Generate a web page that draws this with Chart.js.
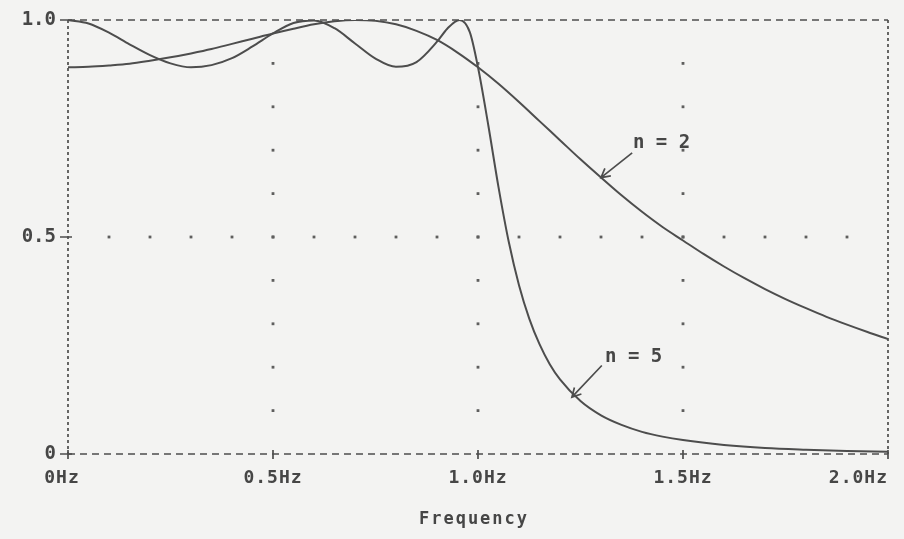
<!DOCTYPE html>
<html lang="en">
<head>
    <meta charset="UTF-8">
    <title>Filter Response, n = 2 and n = 5</title>
    <script src="https://cdn.jsdelivr.net/npm/chart.js"></script>
    <style>
        body {
            margin: 0;
            background: #f3f3f2;
        }
        #response {
            display: block;
        }
    </style>
</head>
<body>
    <canvas id="response" width="904" height="539"></canvas>

    <script>
        // values (magnitude vs frequency in Hz)
        const freqN2 = [0, 0.05, 0.1, 0.15, 0.2, 0.25, 0.3, 0.35, 0.4, 0.45, 0.5, 0.55, 0.6, 0.65, 0.7, 0.75, 0.8, 0.85, 0.9, 0.95,
                        1.0, 1.05, 1.1, 1.15, 1.2, 1.25, 1.3, 1.35, 1.4, 1.45, 1.5, 1.55, 1.6, 1.65, 1.7, 1.75, 1.8, 1.85, 1.9, 1.95, 2.0];
        const magN2 = [0.891, 0.892, 0.895, 0.899, 0.906, 0.914, 0.923, 0.933, 0.945, 0.957, 0.969, 0.980, 0.990, 0.997, 1.000, 0.998, 0.990, 0.975, 0.954, 0.925,
                       0.891, 0.853, 0.811, 0.767, 0.723, 0.679, 0.637, 0.596, 0.558, 0.523, 0.492, 0.461, 0.432, 0.405, 0.380, 0.357, 0.336, 0.316, 0.298, 0.281, 0.265];

        const freqN5 = [0, 0.05, 0.1, 0.15, 0.2, 0.25, 0.3, 0.35, 0.4, 0.45, 0.5, 0.55, 0.6, 0.65, 0.7, 0.75, 0.8, 0.85, 0.9, 0.925, 0.955, 0.98,
                        1.0, 1.025, 1.05, 1.075, 1.1, 1.125, 1.15, 1.175, 1.2, 1.25, 1.3, 1.35, 1.4, 1.45, 1.5, 1.6, 1.7, 1.8, 1.9, 2.0];
        const magN5 = [1.000, 0.992, 0.971, 0.944, 0.919, 0.900, 0.891, 0.896, 0.912, 0.939, 0.969, 0.993, 0.999, 0.981, 0.946, 0.911, 0.892, 0.903, 0.950, 0.980, 1.000, 0.972,
                       0.891, 0.758, 0.615, 0.489, 0.389, 0.312, 0.253, 0.207, 0.172, 0.122, 0.089, 0.067, 0.051, 0.040, 0.032, 0.021, 0.014, 0.010, 0.007, 0.005];

        const xTicks = [0, 0.5, 1.0, 1.5, 2.0];
        const xTickLabels = ['0Hz', '0.5Hz', '1.0Hz', '1.5Hz', '2.0Hz'];
        const yTicks = [0, 0.5, 1.0];
        const yTickLabels = ['0', '0.5', '1.0'];
        const xTitle = 'Frequency';

        // dotted grid lines
        const gridX = [0.5, 1.0, 1.5];
        const gridY = [0.5];
        const gridStep = 0.1;

        // curve labels with leader arrows, in data units
        const curveNotes = [
            { text: 'n = 2', at: [1.378, 0.705], from: [1.376, 0.694], to: [1.30, 0.637] },
            { text: 'n = 5', at: [1.310, 0.212], from: [1.302, 0.204], to: [1.229, 0.131] }
        ];

        const ink = '#4d4d4d';
        const textInk = '#464646';

        function toPoints(xs, ys) {
            return xs.map((x, i) => ({ x: x, y: ys[i] }));
        }

        const scanPlot = {
            id: 'scanPlot',
            beforeDatasetsDraw(chart) {
                const { ctx, chartArea: a, scales: { x, y } } = chart;
                ctx.save();

                // grid dots
                ctx.fillStyle = '#5e5e5e';
                gridX.forEach(gx => {
                    for (let v = gridStep; v < 1 - 1e-6; v += gridStep) {
                        ctx.fillRect(x.getPixelForValue(gx) - 1.4, y.getPixelForValue(v) - 1.4, 2.8, 2.8);
                    }
                });
                gridY.forEach(gy => {
                    for (let v = gridStep; v < 2 - 1e-6; v += gridStep) {
                        ctx.fillRect(x.getPixelForValue(v) - 1.4, y.getPixelForValue(gy) - 1.4, 2.8, 2.8);
                    }
                });

                // dashed frame
                ctx.strokeStyle = ink;
                ctx.lineWidth = 1.7;
                ctx.setLineDash([7, 5]);
                ctx.beginPath();
                ctx.moveTo(a.left, a.top);
                ctx.lineTo(a.right, a.top);
                ctx.moveTo(a.left, a.bottom);
                ctx.lineTo(a.right, a.bottom);
                ctx.stroke();
                ctx.setLineDash([3, 3]);
                ctx.beginPath();
                ctx.moveTo(a.left, a.top);
                ctx.lineTo(a.left, a.bottom);
                ctx.moveTo(a.right, a.top);
                ctx.lineTo(a.right, a.bottom);
                ctx.stroke();
                ctx.setLineDash([]);

                // tick marks
                ctx.beginPath();
                yTicks.forEach(v => {
                    const py = y.getPixelForValue(v);
                    ctx.moveTo(a.left - 8, py);
                    ctx.lineTo(a.left + 4, py);
                });
                xTicks.forEach(v => {
                    const px = x.getPixelForValue(v);
                    ctx.moveTo(px, a.bottom - 4);
                    ctx.lineTo(px, a.bottom + 5);
                });
                ctx.stroke();
                ctx.restore();
            },
            afterDraw(chart) {
                const { ctx, chartArea: a, scales: { x, y } } = chart;
                ctx.save();
                ctx.fillStyle = textInk;

                // y labels
                ctx.font = 'bold 19px "DejaVu Sans Mono"';
                ctx.textAlign = 'right';
                ctx.textBaseline = 'middle';
                yTicks.forEach((v, i) => {
                    ctx.fillText(yTickLabels[i], a.left - 12, y.getPixelForValue(v));
                });

                // x labels, last one kept inside the frame
                ctx.font = 'bold 18px "DejaVu Sans Mono"';
                ctx.letterSpacing = '1px';
                xTicks.forEach((v, i) => {
                    const last = i === xTicks.length - 1;
                    ctx.textAlign = last ? 'right' : 'center';
                    ctx.fillText(xTickLabels[i], x.getPixelForValue(v) + (i === 0 ? -6 : 0), a.bottom + 24);
                });

                ctx.font = 'bold 17px "DejaVu Sans Mono"';
                ctx.letterSpacing = '2px';
                ctx.textAlign = 'center';
                ctx.textBaseline = 'alphabetic';
                ctx.fillText(xTitle, (a.left + a.right) / 2 - 4, a.bottom + 70);

                // curve notes
                ctx.font = 'bold 19px "DejaVu Sans Mono"';
                ctx.letterSpacing = '0px';
                ctx.textAlign = 'left';
                ctx.strokeStyle = ink;
                ctx.lineWidth = 1.7;
                curveNotes.forEach(n => {
                    ctx.fillText(n.text, x.getPixelForValue(n.at[0]), y.getPixelForValue(n.at[1]));
                    const x1 = x.getPixelForValue(n.from[0]), y1 = y.getPixelForValue(n.from[1]);
                    const x2 = x.getPixelForValue(n.to[0]), y2 = y.getPixelForValue(n.to[1]);
                    const ang = Math.atan2(y2 - y1, x2 - x1);
                    ctx.beginPath();
                    ctx.moveTo(x1, y1);
                    ctx.lineTo(x2, y2);
                    ctx.moveTo(x2 - 10 * Math.cos(ang - 0.5), y2 - 10 * Math.sin(ang - 0.5));
                    ctx.lineTo(x2, y2);
                    ctx.lineTo(x2 - 10 * Math.cos(ang + 0.5), y2 - 10 * Math.sin(ang + 0.5));
                    ctx.stroke();
                });
                ctx.restore();
            }
        };

        new Chart(document.getElementById('response').getContext('2d'), {
            type: 'line',
            data: {
                datasets: [{
                    label: 'n = 2',
                    data: toPoints(freqN2, magN2),
                    borderColor: ink,
                    borderWidth: 2,
                    pointRadius: 0,
                    cubicInterpolationMode: 'monotone',
                    fill: false
                }, {
                    label: 'n = 5',
                    data: toPoints(freqN5, magN5),
                    borderColor: ink,
                    borderWidth: 2,
                    pointRadius: 0,
                    cubicInterpolationMode: 'monotone',
                    fill: false
                }]
            },
            options: {
                responsive: false,
                animation: false,
                layout: { padding: { left: 68, right: 16, top: 20, bottom: 85 } },
                plugins: {
                    legend: { display: false },
                    tooltip: { enabled: false }
                },
                scales: {
                    x: { type: 'linear', min: 0, max: 2, display: false },
                    y: { min: 0, max: 1, display: false }
                }
            },
            plugins: [scanPlot]
        });
    </script>
</body>
</html>
